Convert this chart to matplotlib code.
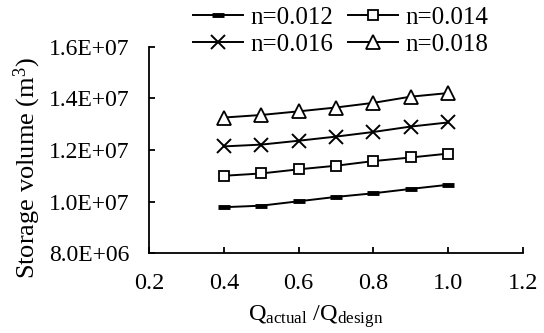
import matplotlib

matplotlib.use("Agg")
import matplotlib.pyplot as plt

plt.rcParams["font.family"] = ["Liberation Serif", "DejaVu Serif"]
plt.rcParams["mathtext.fontset"] = "custom"
plt.rcParams["mathtext.rm"] = "Liberation Serif"
plt.rcParams["mathtext.it"] = "Liberation Serif:italic"

# Q_actual / Q_design ratio
ratio = [0.4, 0.5, 0.6, 0.7, 0.8, 0.9, 1.0]

# storage volume (m^3) for each Manning n
vol_012 = [9.78e6, 9.84e6, 10.01e6, 10.18e6, 10.32e6, 10.49e6, 10.65e6]
vol_014 = [11.00e6, 11.09e6, 11.25e6, 11.39e6, 11.57e6, 11.71e6, 11.86e6]
vol_016 = [12.14e6, 12.21e6, 12.36e6, 12.52e6, 12.70e6, 12.91e6, 13.07e6]
vol_018 = [13.26e6, 13.36e6, 13.50e6, 13.65e6, 13.83e6, 14.07e6, 14.21e6]

labels = ["n=0.012", "n=0.014", "n=0.016", "n=0.018"]
yticks = [8.0e6, 1.0e7, 1.2e7, 1.4e7, 1.6e7]
xticks = [0.2, 0.4, 0.6, 0.8, 1.0, 1.2]

fig = plt.figure(figsize=(5.44, 3.33), dpi=100)
ax = fig.add_axes((0.274, 0.240, 0.687, 0.619))

l1, = ax.plot(ratio, vol_012, color="black", lw=1.4, marker="_", ms=9, mew=3.5)
l2, = ax.plot(ratio, vol_014, color="black", lw=1.4, marker="s", ms=7.5, mfc="white",
              mec="black", mew=1.3)
l3, = ax.plot(ratio, vol_016, color="black", lw=1.4, marker="x", ms=9.5, mew=1.4)
l4, = ax.plot(ratio, vol_018, color="black", lw=1.4, marker="^", ms=9.5, mfc="white",
              mec="black", mew=1.3)

ax.set_xlim(0.2, 1.2)
ax.set_ylim(8.0e6, 1.6e7)
ax.set_xticks(xticks)
ax.set_xticklabels([f"{v:.1f}" for v in xticks])
ax.set_yticks(yticks)
ax.set_yticklabels([f"{v / 10 ** 7:.1f}E+07" if v >= 1e7 else f"{v / 10 ** 6:.1f}E+06"
                    for v in yticks])

for s in ("top", "right"):
    ax.spines[s].set_visible(False)
for s in ("left", "bottom"):
    ax.spines[s].set_linewidth(1.3)
ax.tick_params(axis="x", direction="in", length=4, width=1.3, labelsize=17.5, pad=14)
ax.tick_params(axis="y", direction="in", length=4, width=1.3, labelsize=17, pad=14)

ax.set_xlabel(r"Q$_{\mathrm{actual}}$ /Q$_{\mathrm{design}}$", fontsize=17.5)
ax.xaxis.set_label_coords(0.447, -0.245)
ax.set_ylabel(r"Storage volume (m$^{3}$)", fontsize=19)
ax.yaxis.set_label_coords(-0.283, 0.41)

# row-major legend order: 012, 014 / 016, 018
fig.legend([l1, l3, l2, l4], [labels[0], labels[2], labels[1], labels[3]],
           ncol=2, loc="upper left", bbox_to_anchor=(193 / 544, 1 - 6 / 333),
           frameon=False, fontsize=18, handlelength=2.0, handletextpad=0.28,
           columnspacing=0.6, labelspacing=0.2, borderpad=0, borderaxespad=0)

fig.savefig("out.png", dpi=100, facecolor="white")
